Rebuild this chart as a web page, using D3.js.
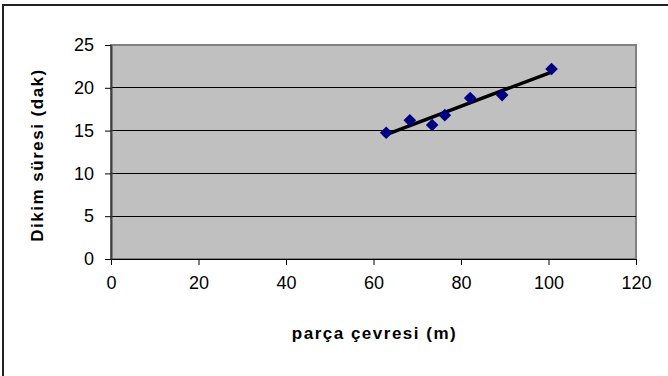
<!DOCTYPE html>
<html><head><meta charset="utf-8">
<script src="https://cdn.jsdelivr.net/npm/d3@7"></script>
<style>body{margin:0;background:#fff}svg{display:block}</style>
</head><body>
<svg id="c" width="668" height="376"></svg>
<script>
const xValues = [62.9, 68.3, 73.4, 76.3, 82.1, 89.4, 100.7];
const yValues = [14.75, 16.2, 15.65, 16.8, 18.8, 19.15, 22.2];
const xTicks = [0, 20, 40, 60, 80, 100, 120];
const yTicks = [0, 5, 10, 15, 20, 25];
const xTitle = "parça çevresi (m)";
const yTitle = "Dikim süresi (dak)";

const svg = d3.select("#c");
const L = 111, R = 636, T = 45, B = 259;
const x = d3.scaleLinear().domain([0, 120]).range([L, R]);
const y = d3.scaleLinear().domain([0, 25]).range([B, T]);
const FONT = "Liberation Sans, Arial, sans-serif";

// outer border
svg.append("rect").attr("x", 3).attr("y", 5).attr("width", 700).attr("height", 400)
  .attr("fill", "#fff").attr("stroke", "#222").attr("stroke-width", 2);

// plot area
svg.append("rect").attr("x", L).attr("y", T).attr("width", R - L).attr("height", B - T)
  .attr("fill", "#c0c0c0").attr("stroke", "#808080").attr("stroke-width", 2);

// gridlines
svg.append("g").selectAll("line").data(yTicks.filter(d => d > 0 && d < 25)).join("line")
  .attr("x1", L).attr("x2", R).attr("y1", d => y(d)).attr("y2", d => y(d))
  .attr("stroke", "#000").attr("stroke-width", 1).attr("shape-rendering", "crispEdges");

// axes
const xa = svg.append("g").attr("transform", `translate(0,${B})`)
  .call(d3.axisBottom(x).tickValues(xTicks).tickSize(6).tickPadding(11).tickSizeOuter(0));
const ya = svg.append("g").attr("transform", `translate(${L},0)`)
  .call(d3.axisLeft(y).tickValues(yTicks).tickSize(6).tickPadding(11).tickSizeOuter(0));
[xa, ya].forEach(a => {
  a.selectAll("text").attr("font-family", FONT).attr("font-size", 18).attr("fill", "#000");
  a.selectAll("line").attr("stroke", "#000");
  a.select(".domain").attr("stroke", "#000").attr("stroke-width", 1.2);
});
ya.select(".domain").attr("stroke", "#404040").attr("stroke-width", 2);

// trendline (least squares)
const mx = d3.mean(xValues), my = d3.mean(yValues);
const slope = d3.sum(xValues, (v, i) => (v - mx) * (yValues[i] - my)) / d3.sum(xValues, v => (v - mx) ** 2);
const icpt = my - slope * mx;
const x0 = d3.min(xValues), x1 = d3.max(xValues);
svg.append("line").attr("x1", x(x0)).attr("y1", y(icpt + slope * x0))
  .attr("x2", x(x1)).attr("y2", y(icpt + slope * x1))
  .attr("stroke", "#000").attr("stroke-width", 3.5);

// markers
const sym = d3.symbol().type(d3.symbolSquare).size(80);
svg.append("g").selectAll("path").data(xValues.map((v, i) => [v, yValues[i]])).join("path")
  .attr("d", sym)
  .attr("transform", d => `translate(${x(d[0])},${y(d[1])}) rotate(45)`)
  .attr("fill", "#000080");

// titles
svg.append("text").attr("x", (L + R) / 2 + 1).attr("y", 339).attr("text-anchor", "middle")
  .attr("font-family", FONT).attr("font-weight", "bold").attr("letter-spacing", 1.5)
  .attr("font-size", 17).text(xTitle);
svg.append("text").attr("transform", `translate(43,${(T + B) / 2 + 3}) rotate(-90)`)
  .attr("text-anchor", "middle")
  .attr("font-family", FONT).attr("font-weight", "bold").attr("letter-spacing", 1.5)
  .attr("font-size", 17).text(yTitle);
</script>
</body></html>
